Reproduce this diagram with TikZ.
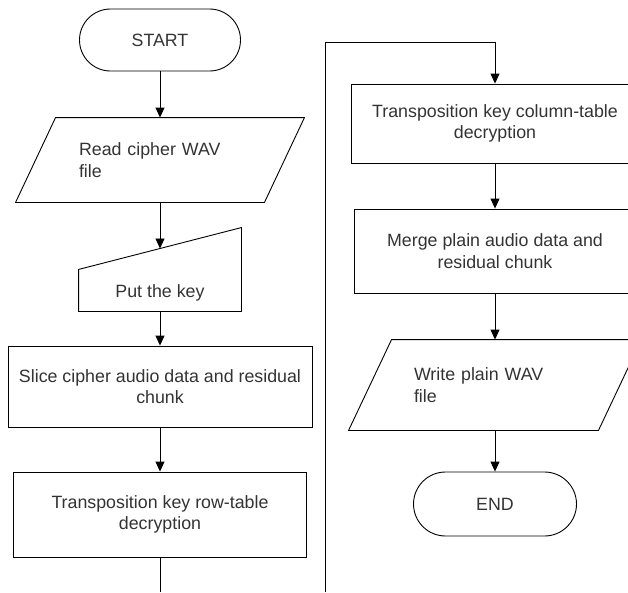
\documentclass[tikz,border=0pt]{standalone}
\usepackage{fontspec}
\setmainfont{Liberation Sans}
\usetikzlibrary{arrows.meta,shapes.misc,calc}
\begin{document}
\begin{tikzpicture}[x=1pt,y=-1pt,line width=0.9pt,
  every node/.style={font=\fontsize{17.8}{21.5}\selectfont, text=black!80, inner sep=0pt},
  terminal/.style={draw, rounded rectangle, minimum width=161pt, minimum height=62pt},
  process/.style={draw, rectangle, align=center},
  iobox/.style={rectangle, text width=162pt, align=left},
  flow/.style={-{Triangle[length=10pt,width=9pt]}}]
\path[use as bounding box] (0,0) rectangle (628,592);
\clip (0,0) rectangle (628,592);

% left column
\node[terminal] (start) at (160,40) {START};

\node[iobox, minimum width=288pt, minimum height=84pt] (read) at (160,160) {Read cipher WAV\\file};
\draw ([xshift=40pt]read.north west) -- (read.north east)
  -- ([xshift=-40pt]read.south east) -- (read.south west) -- cycle;

\node[minimum width=162pt, minimum height=83pt] (key) at (160,269.5) {};
\coordinate (keytl) at ($(key.south west)+(0,-42)$);
\draw (keytl) -- (key.north east) -- (key.south east) -- (key.south west) -- cycle;
\coordinate (keyin) at ($(keytl)!0.5!(key.north east)$);
\node[anchor=base] (keytext) at (160,297) {Put the key};

\node[process, minimum width=304pt, minimum height=81pt] (slice) at (160,386.5)
  {Slice cipher audio data and residual\\chunk};
\node[process, minimum width=293pt, minimum height=85pt] (row) at (160,514.5)
  {Transposition key row-table\\decryption};

% right column
\node[process, minimum width=288pt, minimum height=79pt] (col) at (495,123.5)
  {Transposition key column-table\\decryption};
\node[process, minimum width=282pt, minimum height=84pt] (merge) at (495,251)
  {Merge plain audio data and\\residual chunk};

\node[iobox, minimum width=292pt, minimum height=90pt] (write) at (495,385) {Write plain WAV\\file};
\draw ([xshift=43pt]write.north west) -- (write.north east)
  -- ([xshift=-43pt]write.south east) -- (write.south west) -- cycle;

\node[terminal, minimum width=163pt, minimum height=64pt] (end) at (495,504) {END};

% off-page link between the columns
\coordinate (cutL) at (160,592);
\coordinate (cutR) at (325,592);
\coordinate (turn) at (325,42);

% connectors
\draw[flow] (start.south) -- (read.north);
\draw[flow] (read.south) -- (read.south |- keyin);
\draw[flow] (key.south) -- (slice.north);
\draw[flow] (slice.south) -- (row.north);
\draw (row.south) -- (cutL);
\draw[flow] (cutR) -- (turn) -| (col.north);
\draw[flow] (col.south) -- (merge.north);
\draw[flow] (merge.south) -- (write.north);
\draw[flow] (write.south) -- (end.north);
\end{tikzpicture}
\end{document}
